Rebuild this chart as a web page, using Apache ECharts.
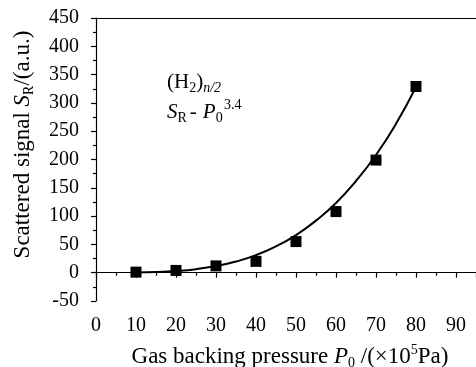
<!DOCTYPE html>
<html>
<head>
<meta charset="utf-8">
<script src="https://cdn.jsdelivr.net/npm/echarts@6/dist/echarts.min.js"></script>
<style>
  html, body { margin: 0; padding: 0; background: #fff; }
  #chart { width: 476px; height: 367px; }
</style>
</head>
<body>
<div id="chart"></div>
<script>
// measured points (gas backing pressure, scattered signal)
const pressure = [10, 20, 30, 40, 50, 60, 70, 80];
const signal = [1, 4, 12, 20, 55, 108, 199, 329];

// fitted curve S_R ~ P0^3.4
const fitPressure = [10, 15, 20, 25, 30, 35, 40, 45, 50, 55, 60, 65, 70, 75, 80];
const fitSignal = [0.3, 1.1, 3, 6.3, 11.7, 19.7, 31, 46.5, 66.5, 92, 123, 162, 208, 263, 328];

const xTicks = { min: 0, max: 95, interval: 10 };
const yTicks = { min: -50, max: 450, interval: 50 };

const serif = '"Liberation Serif", "DejaVu Serif", serif';
// rich styles: n normal, i italic, sub / sup small raised or lowered
const makeRich = (big, small) => ({
    n: { fontFamily: serif, fontSize: big, color: '#000', lineHeight: big + 4 },
    i: { fontFamily: serif, fontSize: big, color: '#000', fontStyle: 'italic', lineHeight: big + 4 },
    dash: { fontFamily: serif, fontSize: big, color: '#000', lineHeight: big + 4, padding: [0, 6, 0, 3] },
    sub: { fontFamily: serif, fontSize: small, color: '#000', lineHeight: small, verticalAlign: 'bottom' },
    isub: { fontFamily: serif, fontSize: small, color: '#000', fontStyle: 'italic', lineHeight: small, verticalAlign: 'bottom' },
    sup: { fontFamily: serif, fontSize: small, color: '#000', lineHeight: small, verticalAlign: 'top' }
});
const nameRich = makeRich(23, 14);
const noteRich = makeRich(21, 14);

const axisCommon = {
    axisLine: { show: true, lineStyle: { color: '#000', width: 1.2 } },
    axisTick: { show: true, inside: false, length: 5, lineStyle: { color: '#000', width: 1.2 } },
    minorTick: { show: true, splitNumber: 2, length: 3, lineStyle: { color: '#000', width: 1.2 } },
    splitLine: { show: false },
    axisLabel: { color: '#000', fontFamily: serif, fontSize: 20 }
};

const chart = echarts.init(document.getElementById('chart'), null, { renderer: 'canvas' });

chart.setOption({
    animation: false,
    backgroundColor: '#fff',
    grid: { left: 96, top: 18, right: 0, bottom: 66, containLabel: false, outerBoundsMode: 'none' },
    xAxis: [
        {
            type: 'value',
            min: xTicks.min, max: xTicks.max, interval: xTicks.interval,
            ...axisCommon,
            axisLabel: { ...axisCommon.axisLabel, margin: 15, showMaxLabel: false },
            name: '{n|Gas backing pressure }{i|P}{sub|0}{n| /(×10}{sup|5}{n|Pa)}',
            nameLocation: 'middle',
            nameGap: 42,
            nameTextStyle: { rich: nameRich, padding: [0, 0, 0, 8] }
        },
        {
            type: 'value', position: 'top',
            min: xTicks.min, max: xTicks.max,
            axisLine: { show: true, lineStyle: { color: '#000', width: 1.2 } },
            axisTick: { show: false }, axisLabel: { show: false }, splitLine: { show: false }
        }
    ],
    yAxis: {
        type: 'value',
        min: yTicks.min, max: yTicks.max, interval: yTicks.interval,
        ...axisCommon,
        axisLabel: { ...axisCommon.axisLabel, margin: 17 },
        name: '{n|Scattered signal }{i|S}{sub|R}{n|/(a.u.)}',
        nameLocation: 'middle',
        nameGap: 60,
        nameRotate: 90,
        nameTextStyle: { rich: nameRich, padding: [0, 0, 0, 30] }
    },
    graphic: [
        {
            type: 'text', left: 167, top: 72, silent: true,
            style: { text: '{n|(H}{sub|2}{n|)}{isub|n/2}', rich: noteRich }
        },
        {
            type: 'text', left: 167, top: 102, silent: true,
            style: { text: '{i|S}{sub|R}{dash|-}{i|P}{sub|0}', rich: noteRich }
        },
        {
            type: 'text', left: 224, top: 98, silent: true,
            style: { text: '3.4', fontFamily: serif, fontSize: 14, fill: '#000' }
        }
    ],
    series: [
        {
            name: 'fit',
            type: 'line',
            xAxisIndex: 0,
            data: fitPressure.map((p, k) => [p, fitSignal[k]]),
            smooth: true,
            showSymbol: false,
            lineStyle: { color: '#000', width: 2 },
            z: 2
        },
        {
            name: 'data',
            type: 'scatter',
            xAxisIndex: 0,
            data: pressure.map((p, k) => [p, signal[k]]),
            symbol: 'rect',
            symbolSize: 11,
            itemStyle: { color: '#000', opacity: 1 },
            z: 3
        }
    ]
});
</script>
</body>
</html>
